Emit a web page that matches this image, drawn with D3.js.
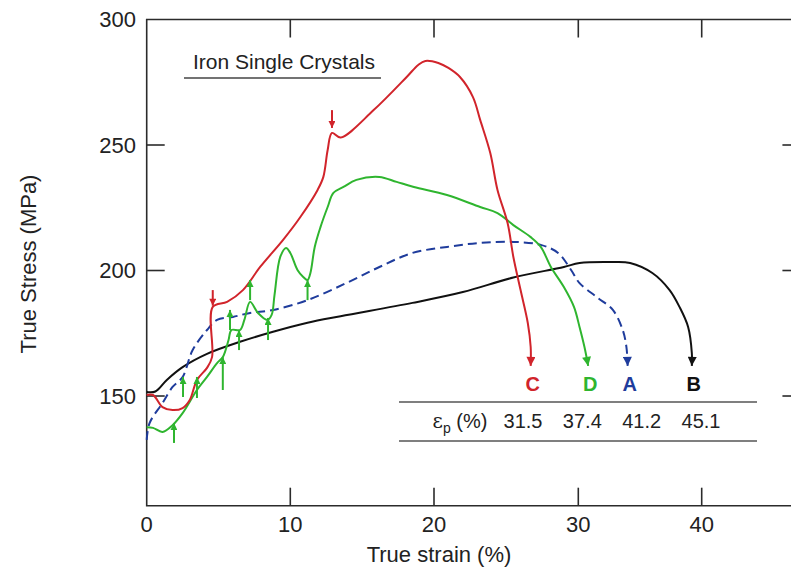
<!DOCTYPE html>
<html>
<head>
<meta charset="utf-8">
<script src="https://cdn.jsdelivr.net/npm/d3@7"></script>
<style>
  html, body { margin: 0; padding: 0; background: #fff; }
  svg { display: block; font-family: "Liberation Sans", Arial, Helvetica, sans-serif; }
</style>
</head>
<body>
<svg id="chart" width="791" height="573"></svg>
<script>
// True stress vs true strain for four iron single crystals (A-D)
const strainTicks = [0, 10, 20, 30, 40];
const stressTicks = [150, 200, 250, 300];

// [true strain %, true stress MPa]
const curveA = [[0,132.5],[0.2,139.2],[1.1,147.2],[1.8,153.6],[2.5,157.6],[3.2,168.3],[4.2,176.3],[4.9,180.3],
  [6.0,181.5],[7.2,183.1],[8.8,184.3],[11.2,188.2],[13.9,195],[16.2,201.4],[18.5,207],[20.9,209.4],
  [23.2,211],[25.5,211.4],[27.4,210.2],[28.6,207],[29.5,200.2],[30.1,195],[31.5,189.4],[32.8,184.3],
  [33.6,176.3],[33.9,169.5],[34.0,162]];
const curveB = [[0,151.6],[0.6,151.8],[1.4,156.4],[2.5,161.5],[4.2,166.8],[6.5,171.6],[8.8,175.6],[11.2,179.2],
  [13.5,181.8],[18.5,187.1],[22,191.4],[25.5,197.2],[29,201.4],[30.1,203],[32.8,203.4],[34.2,203],
  [36,199],[37.4,192.2],[38.2,185.5],[38.9,177.5],[39.2,167.1],[39.2,162]];
const curveC = [[0,150.4],[0.44,150.4],[1.1,145.6],[1.8,144.4],[2.5,145.2],[3.0,148.4],[3.5,156.4],[4.2,161.2],
  [4.55,165.5],[4.6,185.5],[5.6,187.5],[6.7,192.2],[7.9,201.4],[9.5,212.2],[10.7,221.3],[11.9,232.1],
  [12.3,237.3],[12.6,248],[12.9,254.8],[13.5,253.0],[15.8,263.9],[18.1,277.1],[18.9,281.9],[19.4,283.5],
  [20.3,282.7],[21.0,280.7],[21.8,277.1],[22.7,269.1],[23.2,260],[23.9,246.8],[24.4,232.1],[25.1,218.9],[25.5,205.4],
  [26.0,192.2],[26.5,179.1],[26.7,169.5],[26.7,162]];
const curveD = [[0,137.6],[0.44,137.3],[1.1,135.7],[1.8,138.4],[2.5,143.2],[3.5,152.4],[4.2,157.6],[4.9,163.1],
  [5.3,165.5],[5.7,172.3],[5.9,176.3],[6.5,176.3],[6.8,180.3],[7.2,187.5],[7.75,183.1],[8.4,180.3],
  [8.7,182.3],[8.9,190.2],[9.3,205.4],[9.7,209],[10.0,207],[10.5,200.2],[10.9,197.4],[11.2,196.2],
  [11.4,199],[11.7,209.4],[12.1,217.3],[12.6,225.3],[13.0,230.9],[13.7,233.3],[14.6,236.1],[16.2,237.3],
  [17.4,235.3],[18.6,233.3],[20.9,230.1],[23.2,225.3],[24.4,222.9],[25.5,218.1],[26.7,213.3],[27.4,209.4],
  [28.1,201.4],[29.0,193.4],[29.7,185.5],[30.1,177.5],[30.5,169.5],[30.8,162]];

// short marker arrows on the curves: [strain, from stress, to stress]
const arrowsC = [[4.6,192.2,186],[12.9,263.9,256.8]];
const arrowsD = [[1.9,131.3,139.2],[2.53,149.6,157.6],[3.5,149.2,157.6],[5.3,152.4,165.5],[5.8,176.3,184.3],
  [6.43,168.3,176.3],[7.2,188.2,196.2],[8.45,172.3,181.1],[11.2,188.2,196.2]];

const specimens = ["C", "D", "A", "B"];
const elongation = [31.5, 37.4, 41.2, 45.1];

const colors = { A: "#1f3c9c", B: "#111111", C: "#d1242b", D: "#2fb52f" };
const curves = { A: curveA, B: curveB, C: curveC, D: curveD };

const svg = d3.select("#chart");
svg.append("rect").attr("width", 791).attr("height", 573).attr("fill", "#fff");

const x = d3.scaleLinear().domain([0, 10, 20, 30, 40]).range([146.7, 290.3, 434, 578.3, 701.7]);
const y = d3.scaleLinear().domain([106.3, 300]).range([505.7, 19.5]);

const plotLeft = x(0), plotRight = x(48), plotTop = y(300), plotBottom = y(106.3);
const tickLen = 18;
const axisColor = "#2b2b2b";

// arrowhead markers
const defs = svg.append("defs");
Object.entries(colors).forEach(([k, c]) => {
  defs.append("marker").attr("id", "head" + k)
    .attr("viewBox", "0 0 10 10").attr("refX", 10).attr("refY", 5)
    .attr("markerWidth", 10).attr("markerHeight", 9).attr("markerUnits", "userSpaceOnUse")
    .attr("orient", "auto")
    .append("path").attr("d", "M0,0 L10,5 L0,10 Z").attr("fill", c);
  defs.append("marker").attr("id", "small" + k)
    .attr("viewBox", "0 0 10 10").attr("refX", 10).attr("refY", 5)
    .attr("markerWidth", 8).attr("markerHeight", 7).attr("markerUnits", "userSpaceOnUse")
    .attr("orient", "auto")
    .append("path").attr("d", "M0,0 L10,5 L0,10 Z").attr("fill", c);
});

// frame
svg.append("path")
  .attr("d", `M${plotRight},${plotTop} L${plotLeft},${plotTop} L${plotLeft},${plotBottom} L${plotRight},${plotBottom}`)
  .attr("fill", "none").attr("stroke", axisColor).attr("stroke-width", 1.6);

// inward ticks
const g = svg.append("g").attr("stroke", axisColor).attr("stroke-width", 1.6);
strainTicks.filter(t => t > 0).forEach(t => {
  g.append("line").attr("x1", x(t)).attr("x2", x(t)).attr("y1", plotBottom).attr("y2", plotBottom - tickLen);
  g.append("line").attr("x1", x(t)).attr("x2", x(t)).attr("y1", plotTop).attr("y2", plotTop + tickLen);
});
stressTicks.filter(t => t < 300).forEach(t => {
  g.append("line").attr("x1", plotLeft).attr("x2", plotLeft + tickLen).attr("y1", y(t)).attr("y2", y(t));
  g.append("line").attr("x1", plotRight).attr("x2", plotRight - tickLen).attr("y1", y(t)).attr("y2", y(t));
});

// tick labels
svg.append("g").selectAll("text").data(strainTicks).join("text")
  .attr("x", d => x(d)).attr("y", 532).attr("text-anchor", "middle")
  .attr("font-size", 22).attr("fill", "#222").text(d => d);
svg.append("g").selectAll("text").data(stressTicks).join("text")
  .attr("x", 136).attr("y", d => y(d)).attr("dy", "0.36em").attr("text-anchor", "end")
  .attr("font-size", 22).attr("fill", "#222").text(d => d);

// axis titles
svg.append("text").attr("x", 439).attr("y", 562).attr("text-anchor", "middle")
  .attr("font-size", 22).attr("fill", "#222").text("True strain (%)");
svg.append("text").attr("transform", "translate(36,264) rotate(-90)").attr("text-anchor", "middle")
  .attr("font-size", 22).attr("fill", "#222").text("True Stress (MPa)");

// title
svg.append("text").attr("x", 284).attr("y", 69).attr("text-anchor", "middle")
  .attr("font-size", 21).attr("fill", "#222").text("Iron Single Crystals");
svg.append("line").attr("x1", 184).attr("x2", 381).attr("y1", 78).attr("y2", 78)
  .attr("stroke", "#444").attr("stroke-width", 1.5);

// curves
const line = d3.line().x(d => x(d[0])).y(d => y(d[1])).curve(d3.curveCatmullRom.alpha(0.5));
["B", "A", "D", "C"].forEach(k => {
  svg.append("path").datum(curves[k])
    .attr("d", line)
    .attr("fill", "none").attr("stroke", colors[k]).attr("stroke-width", 2)
    .attr("stroke-linejoin", "round")
    .attr("stroke-dasharray", k === "A" ? "9,5" : null)
    .attr("marker-end", `url(#head${k})`);
});

// marker arrows along curves C and D
[["C", arrowsC], ["D", arrowsD]].forEach(([k, arr]) => {
  svg.append("g").selectAll("line").data(arr).join("line")
    .attr("x1", d => x(d[0])).attr("x2", d => x(d[0]))
    .attr("y1", d => y(d[1])).attr("y2", d => y(d[2]))
    .attr("stroke", colors[k]).attr("stroke-width", 2)
    .attr("marker-end", `url(#small${k})`);
});

// specimen letters under the curve ends
specimens.forEach(k => {
  const end = curves[k][curves[k].length - 1];
  svg.append("text").attr("x", x(end[0]) + 2).attr("y", 391).attr("text-anchor", "middle")
    .attr("font-size", 20).attr("font-weight", "bold").attr("fill", colors[k]).text(k);
});

// elongation table
const col = d3.scalePoint().domain(specimens).range([523, 701]);
const tableLines = svg.append("g").attr("stroke", "#555").attr("stroke-width", 1.6);
[402, 441].forEach(v => tableLines.append("line").attr("x1", 399).attr("x2", 757).attr("y1", v).attr("y2", v));

const lab = svg.append("text").attr("x", 460).attr("y", 428).attr("text-anchor", "middle")
  .attr("font-size", 20).attr("fill", "#222");
lab.append("tspan").attr("font-family", "DejaVu Serif, serif").text("ε");
lab.append("tspan").attr("font-size", 14).attr("dy", 5).text("p");
lab.append("tspan").attr("dy", -5).text(" (%)");

svg.append("g").selectAll("text").data(specimens).join("text")
  .attr("x", d => col(d)).attr("y", 428).attr("text-anchor", "middle")
  .attr("font-size", 20).attr("fill", "#222")
  .text((d, i) => elongation[i].toFixed(1));
</script>
</body>
</html>
